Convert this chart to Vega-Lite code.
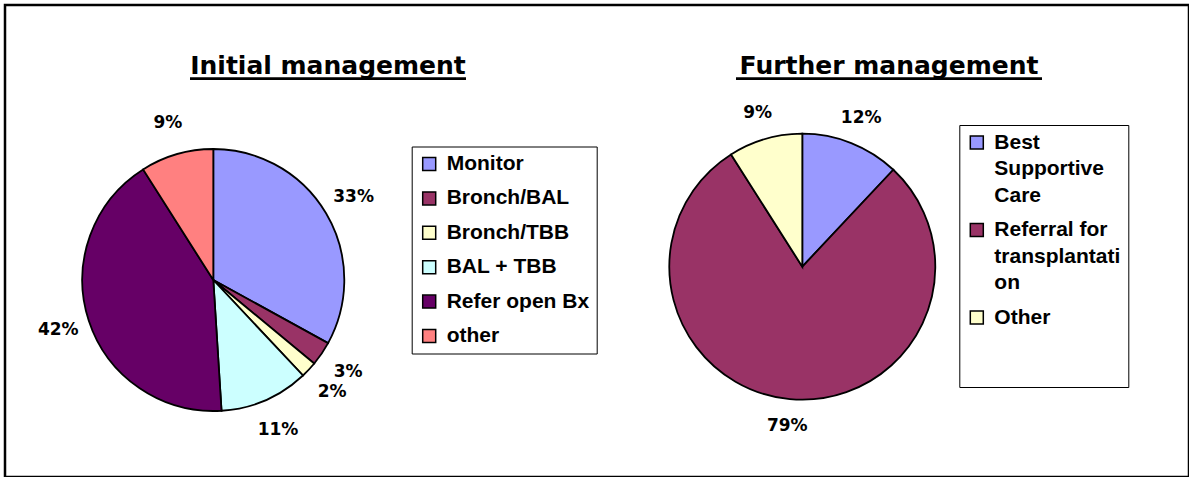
{
  "$schema": "https://vega.github.io/schema/vega-lite/v6.json",
  "width": 1184,
  "height": 472,
  "autosize": {"type": "none"},
  "padding": {"left": 5, "top": 5, "right": 0, "bottom": 0},
  "background": "white",
  "config": {
    "view": {"stroke": "black", "strokeWidth": 2.5},
    "font": "DejaVu Sans",
    "style": {"guide-label": {"lineHeight": 26.7}}
  },
  "datasets": {
    "initial": [
      {"chart": "Initial management", "category": "Monitor", "share": 0.33, "idx": 1},
      {"chart": "Initial management", "category": "Bronch/BAL", "share": 0.03, "idx": 2},
      {"chart": "Initial management", "category": "Bronch/TBB", "share": 0.02, "idx": 3},
      {"chart": "Initial management", "category": "BAL + TBB", "share": 0.11, "idx": 4},
      {"chart": "Initial management", "category": "Refer open Bx", "share": 0.42, "idx": 5},
      {"chart": "Initial management", "category": "other", "share": 0.09, "idx": 6}
    ],
    "further": [
      {"chart": "Further management", "category": "Best Supportive Care", "share": 0.12, "idx": 1},
      {"chart": "Further management", "category": "Referral for transplantation", "share": 0.79, "idx": 2},
      {"chart": "Further management", "category": "Other", "share": 0.09, "idx": 3}
    ],
    "title1": [{"chart": "Initial management"}],
    "title2": [{"chart": "Further management"}]
  },
  "encoding": {
    "x": {"field": "chart", "type": "nominal", "scale": {"type": "point", "padding": 0, "domain": ["Initial management", "Further management"], "range": [208.3, 797.3]}, "axis": null},
    "y": {"field": "chart", "type": "nominal", "scale": {"type": "point", "padding": 0, "domain": ["Initial management", "Further management"], "range": [275, 261.7]}, "axis": null}
  },
  "layer": [
    {
      "data": {"name": "initial"},
      "mark": {"type": "arc", "outerRadius": 131, "stroke": "black", "strokeWidth": 1.8},
      "encoding": {
        "theta": {"field": "share", "type": "quantitative", "stack": true},
        "order": {"field": "idx", "type": "quantitative"},
        "color": {
          "field": "category", "type": "nominal",
          "scale": {"domain": ["Monitor", "Bronch/BAL", "Bronch/TBB", "BAL + TBB", "Refer open Bx", "other"], "range": ["#9999FF", "#993366", "#FFFFCC", "#CCFFFF", "#660066", "#FF8080"]},
          "legend": {
            "orient": "none", "legendX": 406.7, "legendY": 141.5, "direction": "vertical", "title": null,
            "padding": 7, "strokeColor": "black", "fillColor": "white", "cornerRadius": 0,
            "labelFont": "Liberation Sans", "labelFontWeight": "bold", "labelFontSize": 21, "labelColor": "black", "labelLimit": 300,
            "labelOffset": 7, "rowPadding": 12.4,
            "symbolType": "square", "symbolSize": 169, "symbolStrokeColor": "black", "symbolStrokeWidth": 1.5, "symbolOpacity": 1
          }
        }
      }
    },
    {
      "data": {"name": "initial"},
      "mark": {"type": "text", "radius": 163, "font": "DejaVu Sans", "fontWeight": "bold", "fontSize": 17, "color": "black", "align": "center", "baseline": "middle"},
      "encoding": {
        "theta": {"field": "share", "type": "quantitative", "stack": true},
        "order": {"field": "idx", "type": "quantitative"},
        "detail": {"field": "category", "type": "nominal"},
        "text": {"field": "share", "type": "quantitative", "format": ".0%"}
      }
    },
    {
      "data": {"name": "further"},
      "mark": {"type": "arc", "outerRadius": 133, "stroke": "black", "strokeWidth": 1.8},
      "encoding": {
        "theta": {"field": "share", "type": "quantitative", "stack": true},
        "order": {"field": "idx", "type": "quantitative"},
        "color": {
          "field": "category", "type": "nominal",
          "scale": {"domain": ["Best Supportive Care", "Referral for transplantation", "Other"], "range": ["#9999FF", "#993366", "#FFFFCC"]},
          "legend": {
            "orient": "none", "legendX": 954.3, "legendY": 120, "direction": "vertical", "title": " ",
            "titleOrient": "bottom", "titleFontSize": 20, "titlePadding": 32,
            "padding": 7, "strokeColor": "black", "fillColor": "white", "cornerRadius": 0,
            "labelFont": "Liberation Sans", "labelFontWeight": "bold", "labelFontSize": 21, "labelColor": "black", "labelLimit": 300,
            "labelOffset": 7, "rowPadding": 12.5,
            "labelExpr": "datum.label == 'Best Supportive Care' ? ['Best', 'Supportive', 'Care'] : datum.label == 'Referral for transplantation' ? ['Referral for', 'transplantati', 'on'] : datum.label",
            "symbolType": "square", "symbolSize": 169, "symbolStrokeColor": "black", "symbolStrokeWidth": 1.5, "symbolOpacity": 1
          }
        }
      }
    },
    {
      "data": {"name": "further"},
      "mark": {"type": "text", "radius": 160, "font": "DejaVu Sans", "fontWeight": "bold", "fontSize": 17, "color": "black", "align": "center", "baseline": "middle"},
      "encoding": {
        "theta": {"field": "share", "type": "quantitative", "stack": true},
        "order": {"field": "idx", "type": "quantitative"},
        "detail": {"field": "category", "type": "nominal"},
        "text": {"field": "share", "type": "quantitative", "format": ".0%"}
      }
    },
    {
      "data": {"name": "title1"},
      "mark": {"type": "text", "font": "DejaVu Sans", "fontWeight": "bold", "fontSize": 25, "color": "black", "align": "center", "baseline": "alphabetic", "xOffset": 114.7},
      "encoding": {"text": {"field": "chart"}, "y": {"value": 68.5}}
    },
    {
      "data": {"name": "title1"},
      "mark": {"type": "rule", "color": "black", "strokeWidth": 2.8, "xOffset": -23.3, "x2Offset": 252.7},
      "encoding": {"x2": {"field": "chart"}, "y": {"value": 73.7}}
    },
    {
      "data": {"name": "title2"},
      "mark": {"type": "text", "font": "DejaVu Sans", "fontWeight": "bold", "fontSize": 25, "color": "black", "align": "center", "baseline": "alphabetic", "xOffset": 86.7},
      "encoding": {"text": {"field": "chart"}, "y": {"value": 68.5}}
    },
    {
      "data": {"name": "title2"},
      "mark": {"type": "rule", "color": "black", "strokeWidth": 2.8, "xOffset": -66.3, "x2Offset": 239.7},
      "encoding": {"x2": {"field": "chart"}, "y": {"value": 73.7}}
    }
  ],
  "resolve": {"scale": {"color": "independent"}}
}
